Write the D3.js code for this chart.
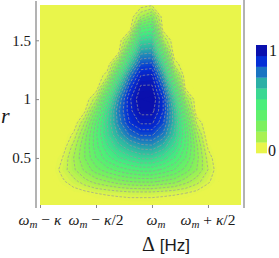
<!DOCTYPE html>
<html lang="en">
<head>
<meta charset="UTF-8">
<title>Detuning map</title>
<script src="https://d3js.org/d3.v7.min.js"></script>
<style>
  body { margin: 0; background: #fff; }
  svg { display: block; }
  .serif { font-family: "Liberation Serif", "DejaVu Serif", serif; fill: #1a1a1a; }
  .axis text { font-family: "Liberation Serif", "DejaVu Serif", serif; font-size: 15px; fill: #1a1a1a; }
  .axis line { stroke: #888; }
</style>
</head>
<body>
<svg id="chart" width="279" height="258"></svg>
<script>
// detuning grid (units of kappa, relative to omega_m) and r grid
const deltaGrid = [-1.0, -0.9, -0.8, -0.7, -0.6, -0.5, -0.4, -0.3, -0.2, -0.1, 0.0, 0.1, 0.2, 0.3, 0.4, 0.5, 0.6, 0.7, 0.8];
const rGrid = [1.8, 1.7, 1.6, 1.5, 1.4, 1.3, 1.2, 1.1, 1.0, 0.9, 0.8, 0.7, 0.6, 0.5, 0.4, 0.3, 0.2, 0.1];

// normalised map, one row per r value (top row = r 1.8)
const intensity = [
  [0, 0, 0, 0, 0, 0, 0, 0, 0, .02, .04, 0, 0, 0, 0, 0, 0, 0, 0],
  [0, 0, 0, 0, 0, 0, 0, 0, 0, .15, .23, .01, 0, 0, 0, 0, 0, 0, 0],
  [0, 0, 0, 0, 0, 0, 0, 0, .01, .39, .42, .02, 0, 0, 0, 0, 0, 0, 0],
  [0, 0, 0, 0, 0, 0, 0, 0, .20, .55, .57, .15, 0, 0, 0, 0, 0, 0, 0],
  [0, 0, 0, 0, 0, 0, 0, .03, .40, .68, .69, .34, 0, 0, 0, 0, 0, 0, 0],
  [0, 0, 0, 0, 0, 0, 0, .23, .57, .80, .81, .52, .08, 0, 0, 0, 0, 0, 0],
  [0, 0, 0, 0, 0, 0, .08, .44, .73, .90, .91, .67, .26, 0, 0, 0, 0, 0, 0],
  [0, 0, 0, 0, 0, 0, .26, .59, .83, .96, .96, .78, .43, .03, 0, 0, 0, 0, 0],
  [0, 0, 0, 0, 0, .13, .43, .70, .89, .99, 1.0, .85, .55, .18, 0, 0, 0, 0, 0],
  [0, 0, 0, 0, .04, .27, .52, .74, .88, .97, .97, .85, .61, .30, 0, 0, 0, 0, 0],
  [0, 0, 0, 0, .15, .36, .55, .72, .85, .91, .91, .81, .62, .37, .09, 0, 0, 0, 0],
  [0, 0, 0, .06, .22, .39, .54, .66, .76, .81, .81, .74, .59, .40, .17, 0, 0, 0, 0],
  [0, 0, .01, .12, .25, .38, .49, .58, .64, .68, .69, .63, .53, .39, .21, .04, 0, 0, 0],
  [0, 0, .05, .15, .25, .35, .43, .49, .53, .56, .56, .52, .45, .35, .22, .08, 0, 0, 0],
  [0, .01, .07, .14, .21, .28, .33, .37, .40, .42, .42, .39, .35, .28, .20, .10, .01, 0, 0],
  [0, 0, .04, .08, .13, .17, .20, .23, .25, .26, .26, .24, .22, .17, .12, .06, .01, 0, 0],
  [0, 0, 0, .02, .03, .05, .06, .07, .08, .08, .08, .07, .06, .05, .03, .01, 0, 0, 0],
  [0, 0, 0, 0, 0, 0, 0, 0, 0, 0, 0, 0, 0, 0, 0, 0, 0, 0, 0]
];

const rTicks = [0.5, 1, 1.5];
const deltaTicks = [-1, -0.5, 0, 0.5];
const deltaTickLabels = [
  { sub: "m", tail: " \u2212 ", kappa: true, frac: "" },
  { sub: "m", tail: " \u2212 ", kappa: true, frac: "/2" },
  { sub: "m", tail: "", kappa: false, frac: "" },
  { sub: "m", tail: " + ", kappa: true, frac: "/2" }
];

// colour bar levels, bottom (0) to top (1)
const levelColors = ["#e9f54b", "#a8f152", "#7cf05e", "#5ff06c", "#4aee7c", "#3ad892", "#2cb0a6", "#1a74c2", "#0530d6", "#0a10ae"];
const levelStops = [0.03, 0.15, 0.25, 0.35, 0.45, 0.55, 0.65, 0.75, 0.85, 0.97];

const svg = d3.select("#chart");
const plot = { left: 40, right: 241, top: 5, bottom: 205 };

const x = d3.scaleLinear().domain([-1, 0.795]).range([plot.left, plot.right]);
const y = d3.scaleLinear().domain([0.1, 1.8]).range([plot.bottom, plot.top]);
const color = d3.scaleLinear().domain(levelStops).range(levelColors).clamp(true);

svg.append("clipPath").attr("id", "plot-clip")
  .append("rect")
  .attr("x", plot.left).attr("y", plot.top)
  .attr("width", plot.right - plot.left).attr("height", plot.bottom - plot.top);

const map = svg.append("g").attr("clip-path", "url(#plot-clip)");
map.append("rect")
  .attr("x", plot.left).attr("y", plot.top)
  .attr("width", plot.right - plot.left).attr("height", plot.bottom - plot.top)
  .attr("fill", color(0));

// contour grid -> data coords (d3 puts sample i at i + 0.5)
const nx = deltaGrid.length, ny = rGrid.length;
const dStep = deltaGrid[1] - deltaGrid[0], rStep = rGrid[0] - rGrid[1];
const toScreen = d3.geoTransform({
  point: function(gx, gy) {
    this.stream.point(x(deltaGrid[0] + (gx - 0.5) * dStep), y(rGrid[0] - (gy - 0.5) * rStep));
  }
});
const path = d3.geoPath(toScreen);
const flat = intensity.flat();

const fillLevels = d3.range(0.01, 1.0, 0.02);
map.selectAll("path.band")
  .data(d3.contours().size([nx, ny]).thresholds(fillLevels)(flat))
  .join("path")
  .attr("class", "band")
  .attr("d", path)
  .attr("fill", d => color(d.value + 0.01))
  .attr("stroke", d => color(d.value + 0.01))
  .attr("stroke-width", 0.3);

const lineLevels = d3.range(0.05, 1.0, 0.05);
map.selectAll("path.iso")
  .data(d3.contours().size([nx, ny]).thresholds(lineLevels)(flat))
  .join("path")
  .attr("class", "iso")
  .attr("d", path)
  .attr("fill", "none")
  .attr("stroke", "#9a9a9a")
  .attr("stroke-opacity", 0.85)
  .attr("stroke-width", 0.8)
  .attr("stroke-dasharray", "2.5,1.6");

// frame sides
svg.append("line").attr("x1", 36).attr("x2", 36).attr("y1", 1).attr("y2", 208)
  .attr("stroke", "#808080").attr("stroke-width", 1.2);
svg.append("line").attr("x1", 244).attr("x2", 244).attr("y1", 0).attr("y2", 208)
  .attr("stroke", "#808080").attr("stroke-width", 1.2);

// y axis
const yAxis = svg.append("g").attr("class", "axis")
  .attr("transform", "translate(36,0)")
  .call(d3.axisLeft(y).tickValues(rTicks).tickSize(-3).tickPadding(5).tickFormat(d3.format("")));
yAxis.select(".domain").remove();

// x axis
const xAxis = svg.append("g").attr("class", "axis")
  .attr("transform", "translate(0,208)")
  .call(d3.axisBottom(x).tickValues(deltaTicks).tickSize(-3).tickFormat(""));
xAxis.select(".domain").remove();
xAxis.selectAll("text").remove();

deltaTicks.forEach((t, i) => {
  const lab = deltaTickLabels[i];
  const txt = svg.append("text").attr("class", "serif")
    .attr("x", x(t) + (i === 2 ? 4 : 0)).attr("y", 225)
    .attr("text-anchor", "middle")
    .attr("font-size", 15.5);
  txt.append("tspan").attr("font-style", "italic").text("\u03c9");
  txt.append("tspan").attr("font-style", "italic").attr("font-size", 11).attr("dy", 3).text(lab.sub);
  if (lab.tail) {
    txt.append("tspan").attr("dy", -3).attr("xml:space", "preserve").text(lab.tail);
    if (lab.kappa) txt.append("tspan").attr("font-style", "italic").text("\u03ba");
    if (lab.frac) txt.append("tspan").text(lab.frac);
  }
});

// axis titles
const xTitle = svg.append("text").attr("x", 166).attr("y", 251).attr("text-anchor", "middle");
xTitle.append("tspan").attr("class", "serif").attr("font-size", 20).text("\u0394");
xTitle.append("tspan").attr("font-family", "Liberation Sans, Arial, sans-serif").attr("font-size", 17)
  .attr("fill", "#1a1a1a").text(" [Hz]");

svg.append("text").attr("class", "serif")
  .attr("x", 1).attr("y", 123)
  .attr("font-size", 22).attr("font-style", "italic")
  .text("r");

// colour bar
const bar = { x: 256, w: 11, top: 45, bottom: 153 };
const barY = d3.scaleLinear().domain([0, 1]).range([bar.bottom, bar.top]);
svg.append("g").selectAll("rect")
  .data(levelColors)
  .join("rect")
  .attr("x", bar.x)
  .attr("width", bar.w)
  .attr("y", (d, i) => barY((i + 1) / levelColors.length))
  .attr("height", barY(0) - barY(1 / levelColors.length) + 0.3)
  .attr("fill", d => d);

svg.append("text").attr("class", "serif").attr("x", 269).attr("y", 56).attr("font-size", 16).text("1");
svg.append("text").attr("class", "serif").attr("x", 268).attr("y", 156).attr("font-size", 16).text("0");
</script>
</body>
</html>
